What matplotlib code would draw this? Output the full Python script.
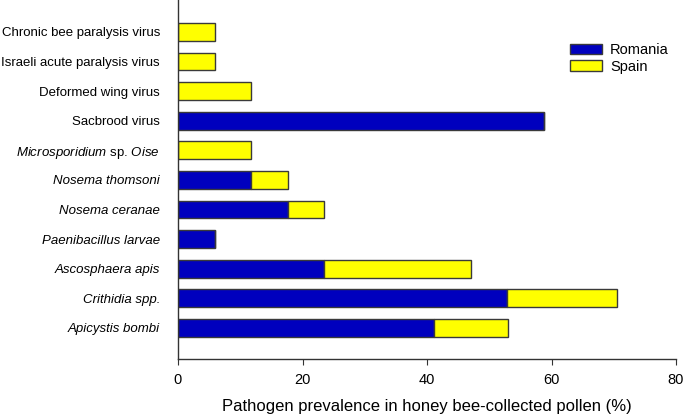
import matplotlib
matplotlib.use("Agg")
import matplotlib.pyplot as plt
import numpy as np

plt.rcParams['font.family'] = ['Liberation Sans', 'DejaVu Sans']
plt.rcParams['mathtext.fontset'] = 'custom'
plt.rcParams['mathtext.rm'] = 'Liberation Sans'
plt.rcParams['mathtext.it'] = 'Liberation Sans:italic'

# bottom to top
categories = ["Apicystis bombi", "Crithidia spp.", "Ascosphaera apis", "Paenibacillus larvae",
              "Nosema ceranae", "Nosema thomsoni", r"$\mathit{Microsporidium}$ sp. $\mathit{Oise}$",
              "Sacbrood virus", "Deformed wing virus", "Israeli acute paralysis virus",
              "Chronic bee paralysis virus"]
italic = [True, True, True, True, True, True, False, False, False, False, False]
romania = [41.2, 52.9, 23.5, 5.9, 17.6, 11.8, 0, 58.8, 0, 0, 0]
spain = [11.8, 17.6, 23.5, 0, 5.9, 5.9, 11.8, 0, 11.8, 5.9, 5.9]
xticks = [0, 20, 40, 60, 80]

fig = plt.figure(figsize=(6.85, 4.18), dpi=100)
ax = fig.add_axes([178/685, 59/418, 498/685, 359/418])

y = np.arange(len(categories))
edge = '#3a3a3a'
ax.barh(y, romania, height=0.6, color='#0000BE', edgecolor=edge, linewidth=1, label='Romania')
ax.barh(y, spain, left=romania, height=0.6, color='#FFFF00', edgecolor=edge, linewidth=1, label='Spain')

ax.set_xlim(0, 80)
ax.set_ylim(-1.05, len(categories) - 1 + 1.08)
ax.set_xticks(xticks)
ax.set_xticklabels([str(t) for t in xticks], fontsize=10.5)
ax.set_yticks(y)
ax.set_yticklabels(categories, fontsize=9.5)
for lbl, it in zip(ax.get_yticklabels(), italic):
    if it:
        lbl.set_fontstyle('italic')
ax.tick_params(axis='y', length=0, pad=13)
ax.tick_params(axis='x', length=4, direction='out', pad=6, color='#333333')
for s in ['top', 'right']:
    ax.spines[s].set_visible(False)
for s in ['left', 'bottom']:
    ax.spines[s].set_color('#333333')
    ax.spines[s].set_linewidth(1)

ax.set_xlabel("Pathogen prevalence in honey bee-collected pollen (%)", fontsize=12, labelpad=9)

leg = ax.legend(loc='upper left', bbox_to_anchor=(0.787, 0.879), frameon=False, fontsize=10.5,
                handlelength=2.2, handleheight=0.7, labelspacing=0.15, handletextpad=0.55,
                borderaxespad=0, borderpad=0)

fig.savefig("out.png", dpi=100)
